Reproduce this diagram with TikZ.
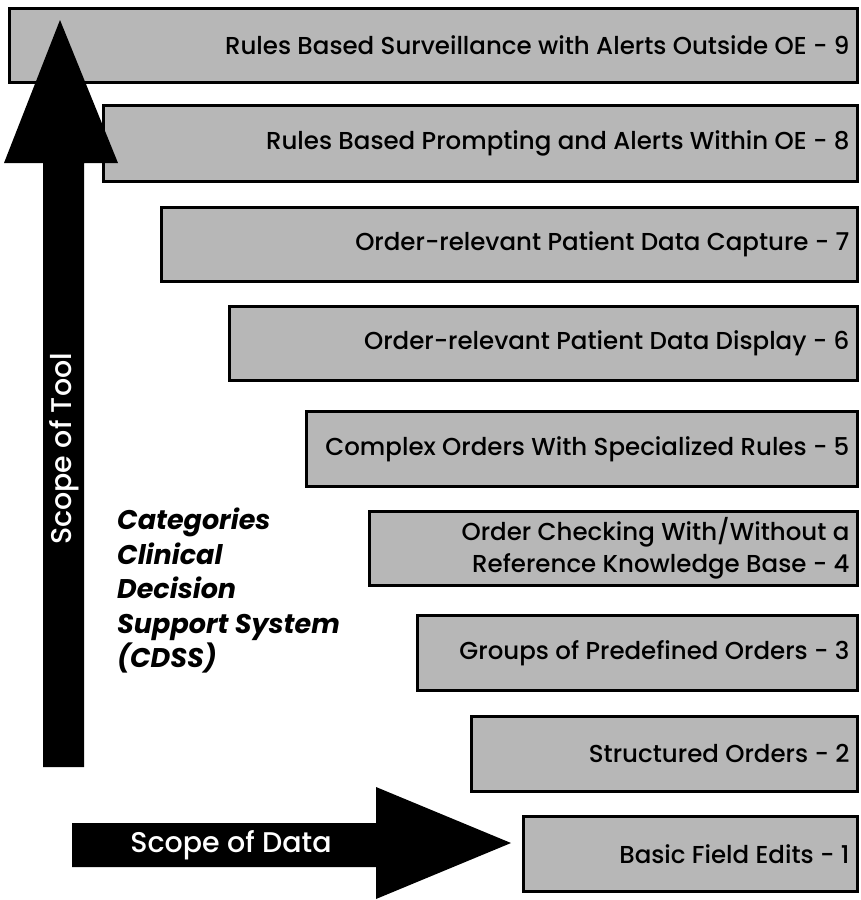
\documentclass[tikz,border=0pt]{standalone}
\usepackage{fontspec}
\setmainfont{Poppins}[UprightFont={* Medium}, BoldFont={* Bold}, ItalicFont={* Medium Italic}, BoldItalicFont={* Bold Italic}]
\begin{document}
\begin{tikzpicture}[x=1pt,y=-1pt,
  level/.style={draw=black, line width=2.6pt, fill=barfill, inner sep=0pt, anchor=north west},
  leveltext/.style={anchor=east, font=\fontsize{24.5}{28}\selectfont, align=right, inner sep=0pt},
  blockarrow/.style={fill=black, draw=none},
  arrowtext/.style={text=white, font=\fontsize{28.5}{32}\selectfont, inner sep=0pt}]
\definecolor{barfill}{HTML}{B7B7B7}
\useasboundingbox (0,0) rectangle (860,900);
\fill[white] (0,0) rectangle (860,900);

% the nine category bars, stepping in from the right
\node[level, minimum width=848pt, minimum height=74pt] (b9) at (8,7) {};
\node[level, minimum width=754pt, minimum height=76pt] (b8) at (102,104) {};
\node[level, minimum width=696pt, minimum height=74pt] (b7) at (160,206) {};
\node[level, minimum width=628pt, minimum height=74pt] (b6) at (228,305) {};
\node[level, minimum width=551pt, minimum height=75pt] (b5) at (305,410) {};
\node[level, minimum width=488pt, minimum height=74pt] (b4) at (368,510) {};
\node[level, minimum width=440pt, minimum height=75pt] (b3) at (416,614) {};
\node[level, minimum width=386pt, minimum height=75pt] (b2) at (470,715) {};
\node[level, minimum width=334pt, minimum height=75pt] (b1) at (522,815) {};

\node[leveltext] (t9) at ([xshift=-9pt]b9.east) {Rules Based Surveillance with Alerts Outside OE - 9};
\node[leveltext] (t8) at ([xshift=-9pt]b8.east) {Rules Based Prompting and Alerts Within OE - 8};
\node[leveltext] (t7) at ([xshift=-9pt]b7.east) {Order-relevant Patient Data Capture - 7};
\node[leveltext] (t6) at ([xshift=-9pt]b6.east) {Order-relevant Patient Data Display - 6};
\node[leveltext] (t5) at ([xshift=-9pt]b5.east) {Complex Orders With Specialized Rules - 5};
\node[leveltext, font=\fontsize{24.5}{32}\selectfont] (t4) at ([xshift=-9pt]b4.east) {Order Checking With/Without a\\Reference Knowledge Base - 4};
\node[leveltext] (t3) at ([xshift=-9pt]b3.east) {Groups of Predefined Orders - 3};
\node[leveltext] (t2) at ([xshift=-9pt]b2.east) {Structured Orders - 2};
\node[leveltext] (t1) at ([xshift=-9pt]b1.east) {Basic Field Edits - 1};

% vertical block arrow: scope of tool
\fill[blockarrow] (43,767) -- (43,163) -- (4,163) -- (60,20) -- (118,163) -- (84,163) -- (84,767) -- cycle;
\node[arrowtext, rotate=90] (tool) at (64,449) {Scope of Tool};

% horizontal block arrow: scope of data
\fill[blockarrow] (72,823) -- (376,823) -- (376,787) -- (511,843) -- (376,899) -- (376,867) -- (72,867) -- cycle;
\node[arrowtext] (data) at (231,845) {Scope of Data};

% caption block
\node[anchor=north west, align=left, inner sep=0pt,
  font=\fontsize{27}{34.5}\selectfont\bfseries\itshape] (cap) at (117,508)
  {Categories\\Clinical\\Decision\\Support System\\(CDSS)};
\end{tikzpicture}
\end{document}
